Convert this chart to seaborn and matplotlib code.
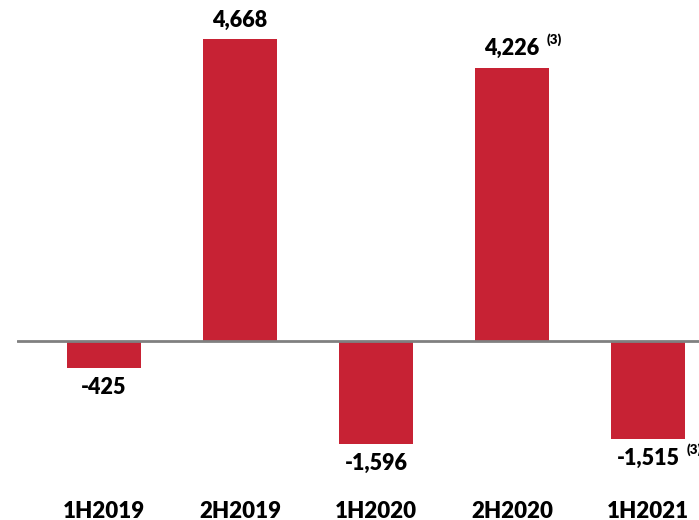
import matplotlib
matplotlib.use("Agg")
import matplotlib.pyplot as plt
import seaborn as sns
import pandas as pd

periods = ["1H2019", "2H2019", "1H2020", "2H2020", "1H2021"]
values = [-425, 4668, -1596, 4226, -1515]
value_labels = ["-425", "4,668", "-1,596", "4,226", "-1,515"]
footnotes = ["", "", "", "(3)", "(3)"]

sns.set_theme(style="white")
plt.rcParams['font.family'] = ['Lato', 'DejaVu Sans']

df = pd.DataFrame({"period": periods, "value": values})

fig = plt.figure(figsize=(6.99, 5.2), dpi=100)
ax = fig.add_axes([17 / 699, 0, 1 - 17 / 699, 1])

sns.barplot(data=df, x="period", y="value", color="#C72234", saturation=1,
            width=0.544, ax=ax, linewidth=0)

ax.set_xlim(-0.64, 4.375)
ax.set_ylim(-2767, 5270)
ax.axhline(0, color="#808080", linewidth=2, zorder=3)

off = 19 / 0.0647
for i, (v, lab, fn) in enumerate(zip(values, value_labels, footnotes)):
    y = v + off if v > 0 else v - off
    t = ax.text(i, y, lab, ha="center", va="center", fontsize=15.5,
                fontweight=800, color="black")
    if fn:
        ax.annotate(fn, xy=(1, 0.6), xycoords=t, xytext=(5, 0),
                    textcoords="offset points", ha="left", va="bottom",
                    fontsize=9.5, fontweight=800, color="black")
    ax.text(i, -2628, periods[i], ha="center", va="center", fontsize=16,
            fontweight=800, color="black")

ax.set_xticks([])
ax.set_yticks([])
ax.set_xlabel("")
ax.set_ylabel("")
for s in ax.spines.values():
    s.set_visible(False)

fig.savefig("out.png", dpi=100)
